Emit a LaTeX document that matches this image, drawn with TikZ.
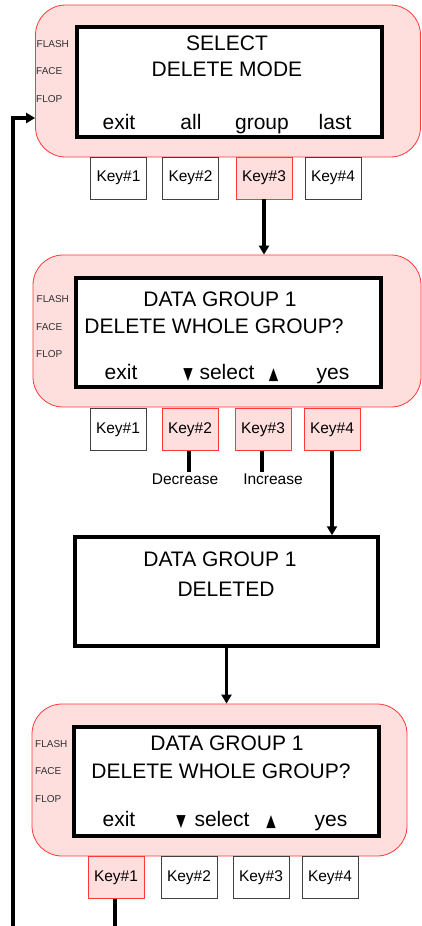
\documentclass[tikz,border=0pt]{standalone}
\usepackage{fontspec}
\setmainfont{Liberation Sans}
\newfontfamily\symfont{DejaVu Sans}
\usetikzlibrary{arrows.meta}
\definecolor{pinkfill}{HTML}{FFDEDE}
\definecolor{redline}{HTML}{FF3838}
\definecolor{sidegray}{HTML}{303030}
\tikzset{
  panel/.style={draw=redline, fill=pinkfill, line width=0.8pt, rounded corners=30pt, minimum width=#1, minimum height=152pt, inner sep=0pt},
  screen/.style={draw=black, fill=white, line width=3.5pt, minimum width=#1, minimum height=109pt, inner sep=0pt},
  keybox/.style={draw=black!75, fill=white, line width=0.8pt, minimum width=56pt, minimum height=42pt, inner sep=0pt, font=\fontsize{15.5}{18}\selectfont},
  keyon/.style={keybox, draw=redline, fill=pinkfill},
  big/.style={inner sep=0pt, anchor=base, font=\fontsize{21}{24}\selectfont},
  side/.style={inner sep=0pt, anchor=base west, text=sidegray, font=\fontsize{10}{12}\selectfont},
  sym/.style={inner sep=0pt, anchor=base, font=\symfont\fontsize{17}{19}\selectfont},
  lbl/.style={inner sep=0pt, anchor=base, font=\fontsize{15.5}{18}\selectfont},
  conn/.style={line width=3.5pt, -{Triangle[length=9pt,width=10pt]}},
  plain/.style={line width=3.5pt},
}
\newcommand{\dnsym}{\scalebox{0.72}[1]{▼}}
\newcommand{\upsym}{\scalebox{0.72}[1]{▲}}
\begin{document}
\begin{tikzpicture}[x=1pt,y=-1pt]
\useasboundingbox (0,0) rectangle (422,926);
% ---------- panel 1
\node[panel=385pt] (p1) at (228,81) {};
\node[screen=305pt, minimum height=110pt] (s1) at (229.5,82) {};
\node[big] (p1t1) at (227,50.7) {SELECT};
\node[big] (p1t2) at (227,76.7) {DELETE MODE};
\node[big] (p1b1) at (119,129) {exit};
\node[big] (p1b2) at (191,129) {all};
\node[big] (p1b3) at (262,129) {group};
\node[big] (p1b4) at (335,129) {last};
\node[side] (p1f1) at (36.5,47.3) {FLASH};
\node[side] (p1f2) at (36,74.3) {FACE};
\node[side] (p1f3) at (36,102.3) {FLOP};
\node[keybox] (p1k1) at (118.5,178) {Key\#1};
\node[keybox] (p1k2) at (190.5,178) {Key\#2};
\node[keyon] (p1k3) at (264,178) {Key\#3};
\node[keybox] (p1k4) at (333,178) {Key\#4};
% ---------- panel 2
\node[panel=388pt] (p2) at (227,331) {};
\node[screen=305pt] (s2) at (228.5,332.5) {};
\node[big] (p2t1) at (220,306.7) {DATA GROUP 1};
\node[big] (p2t2) at (214,333.3) {DELETE WHOLE GROUP?};
\node[big] (p2b1) at (121,379) {exit};
\node[sym] (p2dn) at (188,379) {\dnsym};
\node[big] (p2b2) at (227,379) {select};
\node[sym] (p2up) at (273.5,379) {\upsym};
\node[big] (p2b4) at (333,379) {yes};
\node[side] (p2f1) at (36.5,302.7) {FLASH};
\node[side] (p2f2) at (36,330) {FACE};
\node[side] (p2f3) at (36,357.7) {FLOP};
\node[keybox] (p2k1) at (118,429.5) {Key\#1};
\node[keyon] (p2k2) at (190,429.5) {Key\#2};
\node[keyon] (p2k3) at (263,429.5) {Key\#3};
\node[keyon] (p2k4) at (332,429.5) {Key\#4};
\node[lbl] (dec) at (185,484) {Decrease};
\node[lbl] (inc) at (273,484) {Increase};
\coordinate (decTop) at (189,472);
\coordinate (incTop) at (262,472);
% ---------- box 3
\node[screen=303pt] (b3) at (226.5,591.5) {};
\node[big] (b3t1) at (220,566.7) {DATA GROUP 1};
\node[big] (b3t2) at (226,596) {DELETED};
% ---------- panel 4
\node[panel=375pt] (p4) at (219.5,780) {};
\node[screen=305pt] (s4) at (226.5,781.5) {};
\node[big] (p4t1) at (227,750) {DATA GROUP 1};
\node[big] (p4t2) at (221,778.3) {DELETE WHOLE GROUP?};
\node[big] (p4b1) at (119,826.7) {exit};
\node[sym] (p4dn) at (181,826.7) {\dnsym};
\node[big] (p4b2) at (222,826.7) {select};
\node[sym] (p4up) at (271,826.7) {\upsym};
\node[big] (p4b4) at (331,826.7) {yes};
\node[side] (p4f1) at (35,747.3) {FLASH};
\node[side] (p4f2) at (35,774.3) {FACE};
\node[side] (p4f3) at (35,802.7) {FLOP};
\node[keyon] (p4k1) at (116,877.5) {Key\#1};
\node[keybox] (p4k2) at (189,877.5) {Key\#2};
\node[keybox] (p4k3) at (261,877.5) {Key\#3};
\node[keybox] (p4k4) at (330,877.5) {Key\#4};
% ---------- connectors
\draw[conn] (p1k3.south) -- (p1k3.south |- p2.north);
\draw[plain] (p2k2.south -| decTop) -- (decTop);
\draw[plain] (p2k3.south -| incTop) -- (incTop);
\draw[conn] (p2k4.south) -- (p2k4.south |- b3.north);
\draw[conn] (b3.south) -- (b3.south |- p4.north);
\coordinate (bot1) at (115,928);
\draw[plain] (p4k1.south -| bot1) -- (bot1);
\coordinate (bot0) at (13,928);
\coordinate (turn) at (13,118);
\draw[conn] (bot0) -- (turn) -- (turn -| p1.west);
\end{tikzpicture}
\end{document}
